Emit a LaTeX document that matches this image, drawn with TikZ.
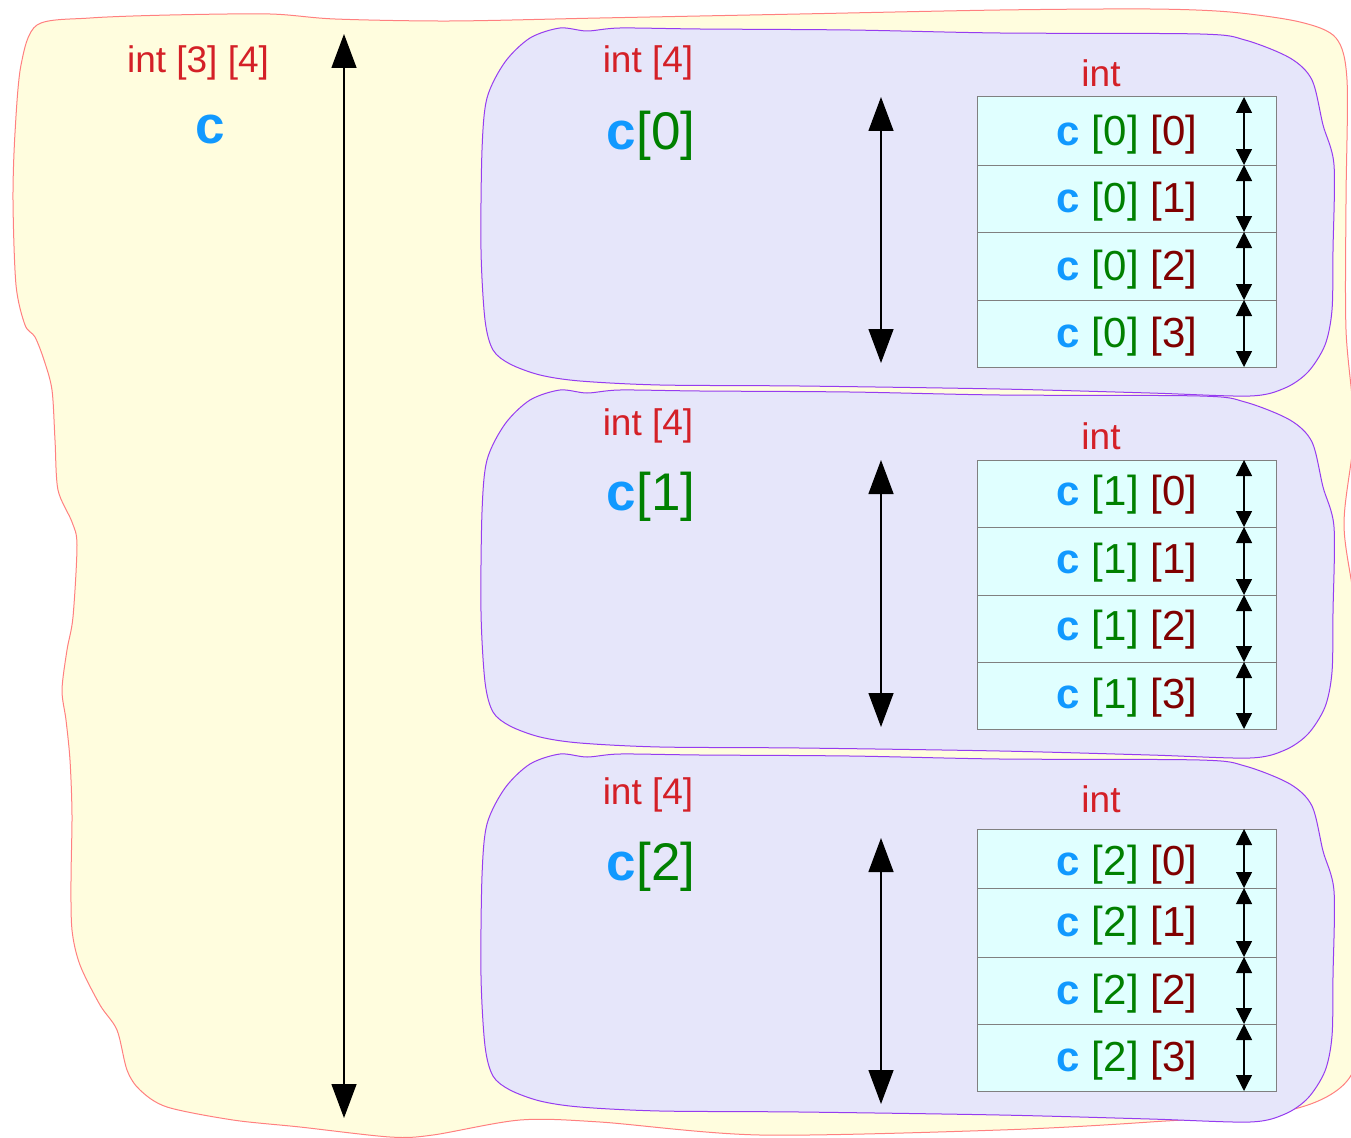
\documentclass[tikz,border=0pt]{standalone}
\usepackage{fontspec}
\setmainfont{Liberation Sans}
\usetikzlibrary{arrows.meta}
\definecolor{yfill}{RGB}{255,253,222}
\definecolor{ydraw}{RGB}{255,128,128}
\definecolor{pfill}{RGB}{230,230,250}
\definecolor{pdraw}{RGB}{150,60,240}
\definecolor{cfill}{RGB}{224,255,255}
\definecolor{cdraw}{RGB}{128,128,128}
\definecolor{tred}{RGB}{212,32,39}
\definecolor{tblue}{RGB}{17,153,255}
\definecolor{tgreen}{RGB}{0,128,0}
\definecolor{tdred}{RGB}{128,0,0}
\newcommand\mkcell[6]{%
  \node[cellbox, minimum height={#3-#2}] (#1) at (1126.5,{(#2+#3)/2}) {};
  \node[celltxt] (#1t) at (1127,#6) {\textcolor{tblue}{\bfseries c} \textcolor{tgreen}{[#4]} \textcolor{tdred}{[#5]}};
  \draw[smallarr] (#1.north -| ax) -- (#1.south -| ax);
}
\begin{document}
\begin{tikzpicture}[x=1pt,y=-1pt,
  outerblob/.style={fill=yfill, draw=ydraw, line width=1pt},
  blob/.style={fill=pfill, draw=pdraw, line width=1pt},
  cellbox/.style={rectangle, fill=cfill, draw=cdraw, line width=1pt, minimum width=299pt, inner sep=0pt, outer sep=0pt},
  celltxt/.style={inner sep=0pt, font=\fontsize{42}{48}\selectfont},
  typelbl/.style={inner sep=0pt, text=tred, font=\fontsize{37}{44}\selectfont},
  namelbl/.style={inner sep=0pt, font=\fontsize{53}{60}\selectfont},
  bigarr/.style={{Triangle[length=34pt,width=25pt]}-{Triangle[length=34pt,width=25pt]}, line width=1.4pt},
  smallarr/.style={{Triangle[length=16pt,width=16pt]}-{Triangle[length=16pt,width=16pt]}, line width=1.2pt}
]
\useasboundingbox (0,0) rectangle (1351,1137);
\clip (0,0) rectangle (1351,1137);
% outer yellow region
\draw[outerblob] plot[smooth cycle, tension=0.5] coordinates {
 (37,25) (90,18) (170,15) (270,14) (335,19) (450,21) (600,18) (800,14) (1000,10)
 (1150,9) (1230,12) (1300,22) (1336,38) (1347,80) (1346,200) (1346,330) (1354,430)
 (1344,525) (1356,620) (1362,800) (1362,1000) (1350,1077) (1290,1110) (1150,1122)
 (1000,1130) (760,1135) (600,1122) (520,1120) (433,1135) (390,1137) (300,1127)
 (233,1120) (167,1107) (140,1090) (127,1070) (117,1030) (100,1005) (80,965)
 (72,930) (71,880) (72,815) (70,760) (66,720) (62,690) (67,650) (73,617)
 (77,545) (72,522) (58,490) (55,440) (52,390) (44,360) (35,337)
 (25,325) (16,285) (13,200) (15,133) (21,65)};
% purple blobs
\foreach \dy in {0,362,726}{
 \draw[blob, shift={(0,\dy)}] plot[smooth cycle, tension=0.5] coordinates {
  (560,28) (587,31) (620,28) (700,29) (850,30) (1000,33) (1200,34) (1245,40)
  (1290,58) (1312,80) (1323,125) (1334,165) (1333,250) (1332,310) (1325,345)
  (1308,372) (1285,388) (1250,396) (1150,393) (1000,389) (800,386) (660,385)
  (580,381) (540,375) (510,364) (493,350) (485,320) (481,250) (482,150)
  (487,98) (505,62) (530,38)};
}
% left labels and big arrow
\node[typelbl] (t34) at (198,63) {int [3] [4]};
\node[namelbl, text=tblue] (cname) at (210,129) {\bfseries c};
\coordinate (bigtop) at (344,34);
\coordinate (bigbot) at (344,1118);
\draw[bigarr] (bigtop) -- (bigbot);
% sub-array labels
\node[typelbl] (t4a) at (648,63) {int [4]};
\node[typelbl] (t4b) at (648,426) {int [4]};
\node[typelbl] (t4c) at (648,795) {int [4]};
\node[namelbl] (c0) at (651,136) {\textcolor{tblue}{\bfseries c}\textcolor{tgreen}{[0]}};
\node[namelbl] (c1) at (651,497) {\textcolor{tblue}{\bfseries c}\textcolor{tgreen}{[1]}};
\node[namelbl] (c2) at (651,867) {\textcolor{tblue}{\bfseries c}\textcolor{tgreen}{[2]}};
\node[typelbl] (inta) at (1101,73) {int};
\node[typelbl] (intb) at (1101,436) {int};
\node[typelbl] (intc) at (1101,799) {int};
% middle arrows
\coordinate (m0t) at (881,97);  \coordinate (m0b) at (881,363);
\coordinate (m1t) at (881,460); \coordinate (m1b) at (881,727);
\coordinate (m2t) at (881,838); \coordinate (m2b) at (881,1104);
\draw[bigarr] (m0t) -- (m0b);
\draw[bigarr] (m1t) -- (m1b);
\draw[bigarr] (m2t) -- (m2b);
% cells
\coordinate (ax) at (1244,0);
\mkcell{e00}{97}{165}{0}{0}{134.5}
\mkcell{e01}{165}{232}{0}{1}{202}
\mkcell{e02}{232}{300}{0}{2}{269.5}
\mkcell{e03}{300}{367}{0}{3}{337}
\mkcell{e10}{460}{527}{1}{0}{495}
\mkcell{e11}{527}{595}{1}{1}{563}
\mkcell{e12}{595}{662}{1}{2}{630}
\mkcell{e13}{662}{729}{1}{3}{698}
\mkcell{e20}{829}{888}{2}{0}{865}
\mkcell{e21}{888}{957}{2}{1}{926}
\mkcell{e22}{957}{1024}{2}{2}{994}
\mkcell{e23}{1024}{1091}{2}{3}{1061}
\end{tikzpicture}
\end{document}
